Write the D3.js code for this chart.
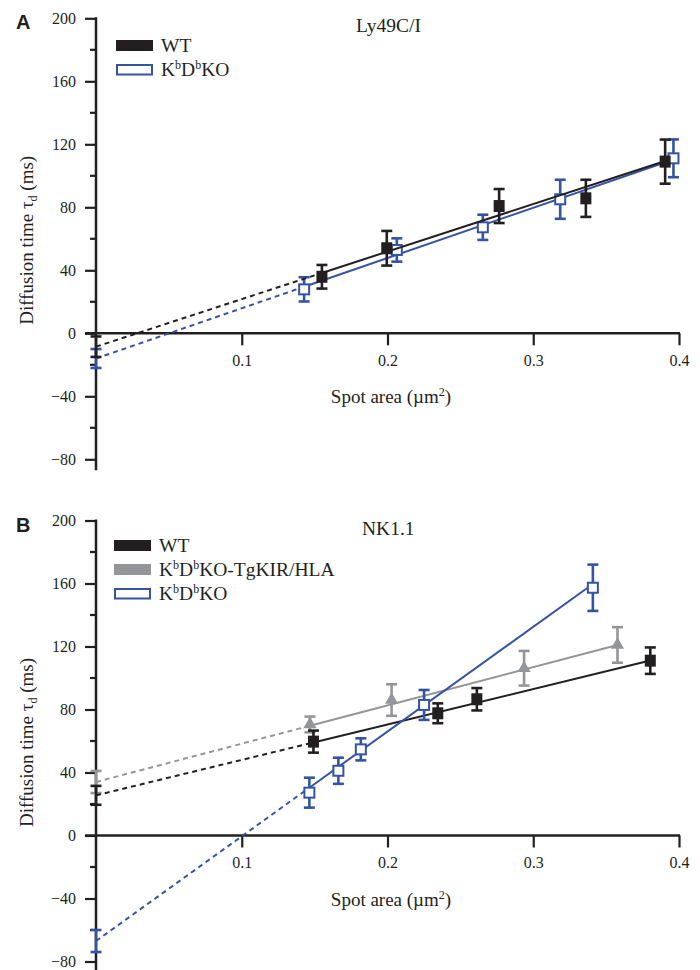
<!DOCTYPE html>
<html>
<head>
<meta charset="utf-8">
<script src="https://cdn.jsdelivr.net/npm/d3@7"></script>
<style>
  body { margin: 0; background: #fff; }
  text { font-family: "Liberation Serif", "DejaVu Serif", serif; fill: #231f20; }
  text.panel-letter { font-family: "Liberation Sans", "DejaVu Sans", sans-serif; font-weight: bold; }
</style>
</head>
<body>
<div id="vis-container"></div>
<script>
// page size
const width = 700;
const height = 970;

// colours
const black = "#231f20";
const blue = "#3553a5";
const gray = "#939598";

// axes
const xTicks = [0.1, 0.2, 0.3, 0.4];
const yTicks = [-80, -40, 0, 40, 80, 120, 160, 200];
const yMinor = [-60, -20, 20, 60, 100, 140, 180];

// ---- panel A : Ly49C/I ----
const aWtX = [0.155, 0.1995, 0.2766, 0.3361, 0.3905];
const aWtY = [35.9, 54.0, 80.8, 85.7, 109.0];
const aWtErr = [7.5, 11, 10.8, 11.8, 14];
const aKoX = [0.1428, 0.2064, 0.2654, 0.3185, 0.3962];
const aKoY = [27.9, 52.9, 67.3, 85.1, 111.1];
const aKoErr = [7.7, 7.4, 8, 12.4, 12];
// intercepts (x = 0) with error and slope of the fitted lines: [WT, KO]
const aIntercept = [-8.5, -16];
const aInterceptErr = [6.5, 6];
const aSlope = [302, 319];

// ---- panel B : NK1.1 ----
const bWtX = [0.1492, 0.2345, 0.2613, 0.3803];
const bWtY = [59.6, 77.6, 86.5, 111.0];
const bWtErr = [7, 6.3, 7.1, 8.4];
const bTgX = [0.1468, 0.2028, 0.2937, 0.3578];
const bTgY = [70.5, 86.0, 106.2, 121.0];
const bTgErr = [5, 10, 11, 11.3];
const bKoX = [0.1464, 0.1663, 0.1817, 0.2251, 0.3409];
const bKoY = [27.2, 41.1, 54.7, 82.9, 157.3];
const bKoErr = [9.5, 8.3, 7, 9.5, 14.7];
// [WT, TgKIR/HLA, KO]
const bIntercept = [25.5, 34, -67];
const bInterceptErr = [6, 7, 7];
const bSlope = [225, 243, 665];

const svg = d3.select("#vis-container")
  .append("svg")
  .attr("width", width)
  .attr("height", height);

const x = d3.scaleLinear().domain([0, 0.4]).range([96, 679]);

// K^bD^b style label with superscripts
function kbLabel(sel, rest) {
  sel.append("tspan").text("K");
  sel.append("tspan").attr("font-size", "12px").attr("dy", -7).text("b");
  sel.append("tspan").attr("dy", 7).text("D");
  sel.append("tspan").attr("font-size", "12px").attr("dy", -7).text("b");
  sel.append("tspan").attr("dy", 7).text(rest);
}

function drawPanel(p) {
  const y = d3.scaleLinear().domain([-80, 200]).range([p.top + 441, p.top]);
  const g = svg.append("g");

  // y axis
  const yAxis = g.append("g")
    .attr("transform", `translate(${x(0)},0)`)
    .call(d3.axisLeft(y).tickValues(yTicks).tickSize(11).tickPadding(9));
  yAxis.select(".domain").remove();
  yAxis.selectAll("line").attr("stroke", black).attr("stroke-width", 2.2);
  yAxis.selectAll("text").attr("font-size", "16px").attr("fill", black);
  yAxis.selectAll(".minor")
    .data(yMinor)
    .enter()
    .append("line")
    .attr("x1", -6).attr("x2", 0)
    .attr("y1", d => y(d)).attr("y2", d => y(d))
    .attr("stroke", black).attr("stroke-width", 2.2);
  g.append("line")
    .attr("x1", x(0)).attr("x2", x(0))
    .attr("y1", y(200) - 1).attr("y2", Math.min(y(-87), height))
    .attr("stroke", black).attr("stroke-width", 2.5);

  // x axis at y = 0
  const xAxis = g.append("g")
    .attr("transform", `translate(0,${y(0)})`)
    .call(d3.axisBottom(x).tickValues(xTicks).tickSize(12).tickPadding(9).tickFormat(d3.format(".1f")));
  xAxis.select(".domain").remove();
  xAxis.selectAll("line").attr("stroke", black).attr("stroke-width", 2.2);
  xAxis.selectAll("text").attr("font-size", "16px").attr("fill", black);
  g.append("line")
    .attr("x1", x(0) - 11).attr("x2", x(0.4) + 1)
    .attr("y1", y(0)).attr("y2", y(0))
    .attr("stroke", black).attr("stroke-width", 2.5);

  // axis titles
  const yl = g.append("text")
    .attr("transform", `translate(33,${y(0) - 93}) rotate(-90)`)
    .attr("text-anchor", "middle")
    .attr("font-size", "19px");
  yl.append("tspan").text("Diffusion time \u03c4");
  yl.append("tspan").attr("font-size", "12px").attr("dy", 4).text("d");
  yl.append("tspan").attr("dy", -4).text(" (ms)");

  const xl = g.append("text")
    .attr("x", 391).attr("y", y(0) + 70)
    .attr("text-anchor", "middle")
    .attr("font-size", "19px");
  xl.append("tspan").text("Spot area (\u00b5m");
  xl.append("tspan").attr("font-size", "12px").attr("dy", -7).text("2");
  xl.append("tspan").attr("dy", 7).text(")");

  // panel letter and title
  g.append("text")
    .attr("class", "panel-letter")
    .attr("x", 16).attr("y", p.top + 11)
    .attr("font-size", "20px")
    .text(p.letter);
  g.append("text")
    .attr("x", p.titleX).attr("y", p.top + 14)
    .attr("font-size", "19.5px")
    .text(p.title);

  // series
  p.series.forEach(s => {
    const x0 = d3.min(s.xs);
    const x1 = d3.max(s.xs);
    const line = d3.line().x(d => x(d)).y(d => y(s.intercept + s.slope * d));

    g.append("path")
      .datum([0, x0])
      .attr("d", line)
      .attr("fill", "none")
      .attr("stroke", s.color)
      .attr("stroke-width", 2)
      .attr("stroke-dasharray", "5,4");
    g.append("path")
      .datum([x0, x1])
      .attr("d", line)
      .attr("fill", "none")
      .attr("stroke", s.color)
      .attr("stroke-width", 2);

    const pts = s.xs.map((d, i) => ({x: d, y: s.ys[i], e: s.errs[i]}));
    pts.push({x: 0, y: s.intercept, e: s.interceptErr, axis: true});

    const eb = g.append("g").attr("stroke", s.color).attr("stroke-width", 2.6).attr("fill", "none");
    pts.forEach(d => {
      const cx = x(d.x);
      eb.append("line").attr("x1", cx).attr("x2", cx).attr("y1", y(d.y + d.e)).attr("y2", y(d.y - d.e));
      eb.append("line").attr("x1", cx - 5.5).attr("x2", cx + 5.5).attr("y1", y(d.y + d.e)).attr("y2", y(d.y + d.e));
      eb.append("line").attr("x1", cx - 5.5).attr("x2", cx + 5.5).attr("y1", y(d.y - d.e)).attr("y2", y(d.y - d.e));
    });

    const markers = pts.filter(d => !d.axis);
    if (s.marker === "filled") {
      g.selectAll(null).data(markers).enter().append("rect")
        .attr("x", d => x(d.x) - 5.5).attr("y", d => y(d.y) - 6)
        .attr("width", 11).attr("height", 12)
        .attr("fill", s.color);
    } else if (s.marker === "open") {
      g.selectAll(null).data(markers).enter().append("rect")
        .attr("x", d => x(d.x) - 5).attr("y", d => y(d.y) - 5)
        .attr("width", 10).attr("height", 10)
        .attr("fill", "#fff").attr("stroke", s.color).attr("stroke-width", 2);
    } else {
      g.selectAll(null).data(markers).enter().append("path")
        .attr("transform", d => `translate(${x(d.x)},${y(d.y)})`)
        .attr("d", d3.symbol(d3.symbolTriangle, 75))
        .attr("fill", s.color);
    }
  });

  // legend
  p.legend.forEach((l, i) => {
    const ly = p.legendTop + i * 24;
    g.append("rect")
      .attr("x", p.legendX).attr("y", ly)
      .attr("width", l.open ? 35 : 37).attr("height", l.open ? 9.5 : 11)
      .attr("transform", l.open ? "translate(1,1)" : null)
      .attr("fill", l.open ? "#fff" : l.color)
      .attr("stroke", l.open ? l.color : "none")
      .attr("stroke-width", 2);
    const t = g.append("text")
      .attr("x", p.legendX + 45).attr("y", ly + 12)
      .attr("font-size", "19.5px");
    if (l.kb) kbLabel(t, l.rest);
    else t.text(l.label);
  });
}

drawPanel({
  top: 18.3,
  letter: "A",
  title: "Ly49C/I",
  titleX: 356,
  legendX: 116,
  legendTop: 40,
  legend: [
    {label: "WT", color: black},
    {kb: true, rest: "KO", color: blue, open: true}
  ],
  series: [
    {xs: aKoX, ys: aKoY, errs: aKoErr, intercept: aIntercept[1], interceptErr: aInterceptErr[1], slope: aSlope[1], color: blue, marker: "open"},
    {xs: aWtX, ys: aWtY, errs: aWtErr, intercept: aIntercept[0], interceptErr: aInterceptErr[0], slope: aSlope[0], color: black, marker: "filled"}
  ]
});

drawPanel({
  top: 520.5,
  letter: "B",
  title: "NK1.1",
  titleX: 362,
  legendX: 114,
  legendTop: 540,
  legend: [
    {label: "WT", color: black},
    {kb: true, rest: "KO-TgKIR/HLA", color: gray},
    {kb: true, rest: "KO", color: blue, open: true}
  ],
  series: [
    {xs: bTgX, ys: bTgY, errs: bTgErr, intercept: bIntercept[1], interceptErr: bInterceptErr[1], slope: bSlope[1], color: gray, marker: "triangle"},
    {xs: bWtX, ys: bWtY, errs: bWtErr, intercept: bIntercept[0], interceptErr: bInterceptErr[0], slope: bSlope[0], color: black, marker: "filled"},
    {xs: bKoX, ys: bKoY, errs: bKoErr, intercept: bIntercept[2], interceptErr: bInterceptErr[2], slope: bSlope[2], color: blue, marker: "open"}
  ]
});
</script>
</body>
</html>
